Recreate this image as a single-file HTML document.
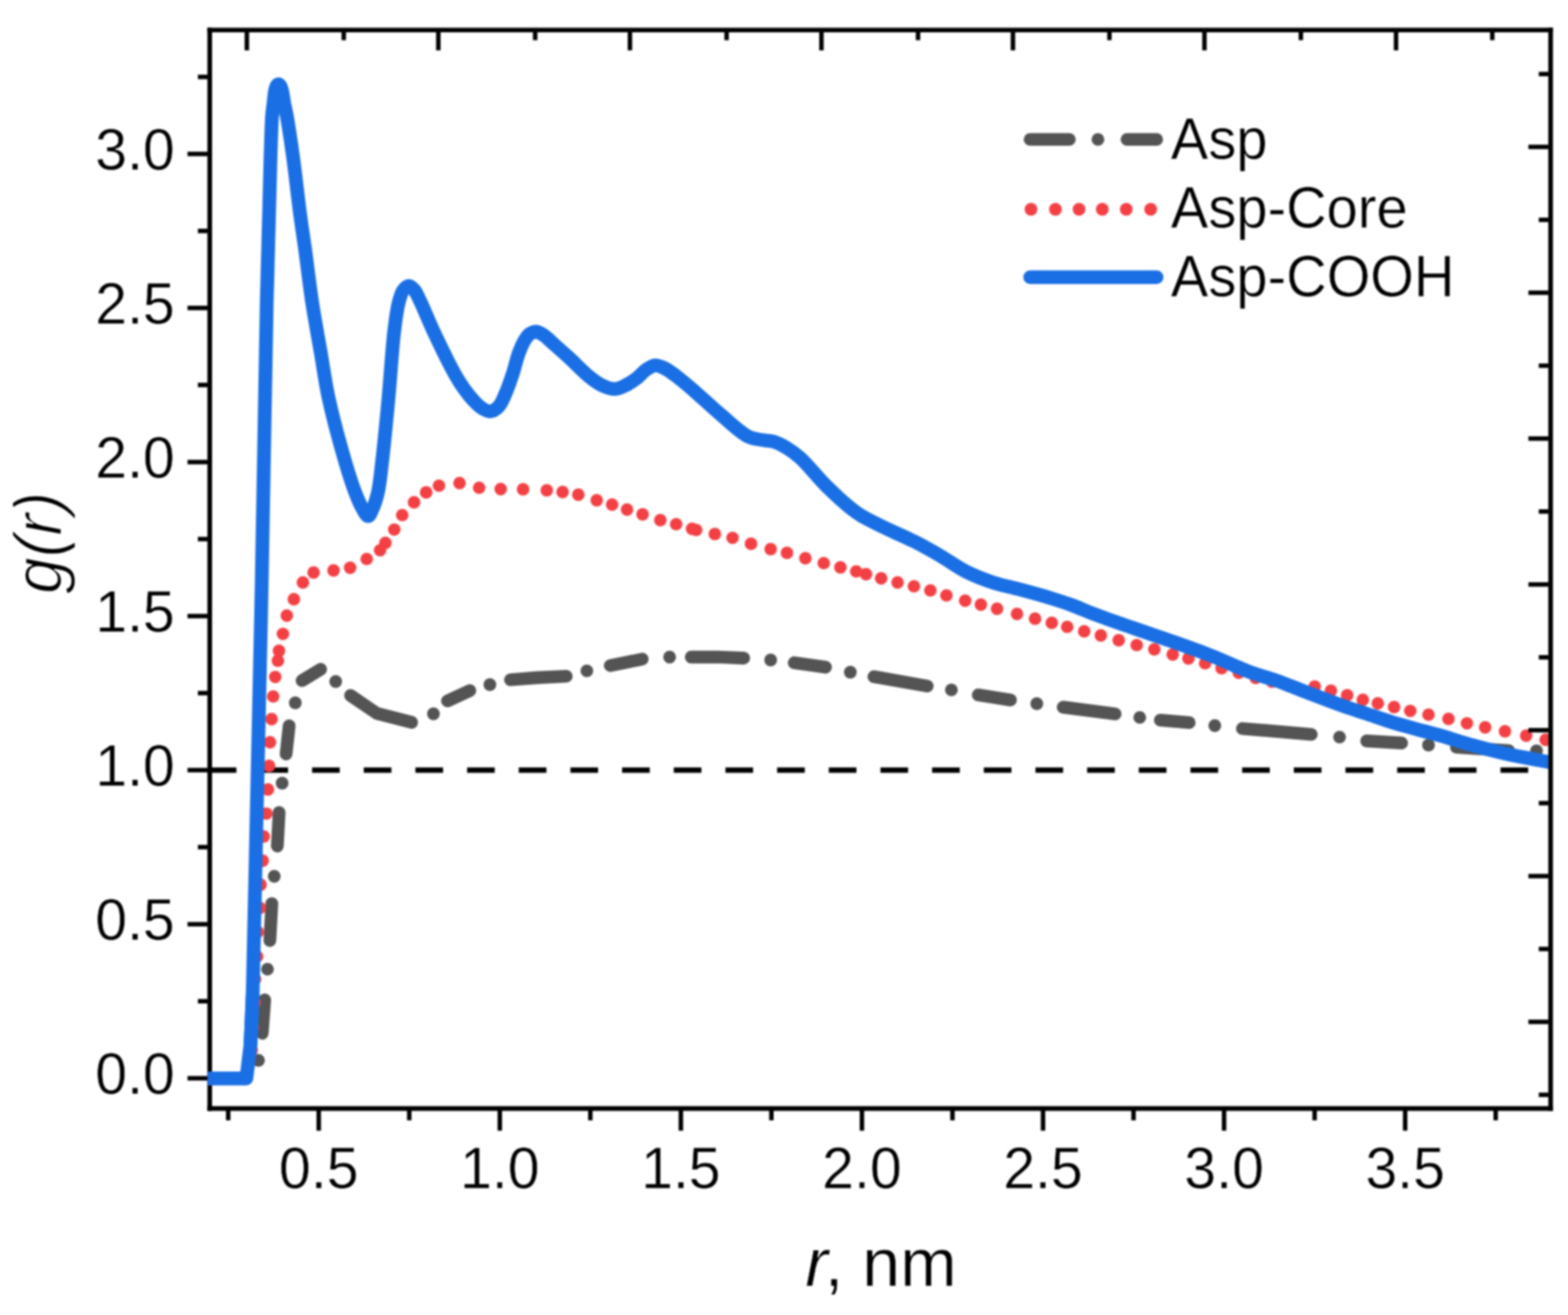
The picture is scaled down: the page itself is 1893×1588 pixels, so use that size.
<!DOCTYPE html>
<html lang="en"><head><meta charset="utf-8"><title>g(r) radial distribution</title>
<style>
html,body{margin:0;padding:0;background:#fff;}
body{width:1893px;height:1588px;overflow:hidden;}
svg{display:block;filter:blur(0.8px);}
text{font-family:"Liberation Sans",sans-serif;fill:#000;}
text{stroke:#fff;stroke-width:0.5px;paint-order:fill stroke;stroke-linejoin:round;}
.tk{font-size:70px;}
.lg{font-size:71px;}
.ax{font-size:82px;stroke-width:0.6px;}
</style></head><body>
<svg width="1893" height="1588" viewBox="0 0 1893 1588">
<rect x="0" y="0" width="1893" height="1588" fill="#fff"/>
<defs><clipPath id="plot"><rect x="250.4" y="33.4" width="1618.8" height="1302.4"/></clipPath></defs>
<g stroke="#000" stroke-width="5.6" fill="none">
<path d="M253.2 33.4 V1341.4"/>
<path d="M250.4 1338.6 H1874.8"/>
</g>
<g stroke="#000" stroke-width="5.4" fill="none">
<path d="M275.5 1340.9 v12.0"/>
<path d="M384.8 1340.9 v24.5"/>
<path d="M494.1 1340.9 v12.0"/>
<path d="M603.4 1340.9 v24.5"/>
<path d="M712.7 1340.9 v12.0"/>
<path d="M822.0 1340.9 v24.5"/>
<path d="M931.3 1340.9 v12.0"/>
<path d="M1040.6 1340.9 v24.5"/>
<path d="M1149.9 1340.9 v12.0"/>
<path d="M1259.2 1340.9 v24.5"/>
<path d="M1368.5 1340.9 v12.0"/>
<path d="M1477.8 1340.9 v24.5"/>
<path d="M1587.1 1340.9 v12.0"/>
<path d="M1696.4 1340.9 v24.5"/>
<path d="M1805.7 1340.9 v12.0"/>
<path d="M250.9 1302.1 h-24.5"/>
<path d="M250.9 1209.1 h-12.0"/>
<path d="M250.9 1116.1 h-24.5"/>
<path d="M250.9 1023.0 h-12.0"/>
<path d="M250.9 930.0 h-24.5"/>
<path d="M250.9 837.0 h-12.0"/>
<path d="M250.9 744.0 h-24.5"/>
<path d="M250.9 651.0 h-12.0"/>
<path d="M250.9 558.0 h-24.5"/>
<path d="M250.9 464.9 h-12.0"/>
<path d="M250.9 371.9 h-24.5"/>
<path d="M250.9 278.9 h-12.0"/>
<path d="M250.9 185.9 h-24.5"/>
<path d="M250.9 92.9 h-12.0"/>
</g>
<g clip-path="url(#plot)">
<path d="M252.0 930.0 H1872.0" stroke="#000" stroke-width="6.4" stroke-dasharray="33.4 28.98" fill="none"/>
<g stroke="#545454" stroke-width="15.4" stroke-linecap="round" stroke-linejoin="round" fill="none">
<path d="M312.1 1280.5 h0.01"/>
<path d="M316.6 1247.8 L319.6 1207.5"/>
<path d="M322.9 1170.4 h0.01"/>
<path d="M325.8 1135.8 L328.2 1091.1"/>
<path d="M331.1 1058.3 h0.01"/>
<path d="M334.8 1021.7 L337.0 981.1"/>
<path d="M340.6 945.8 h0.01"/>
<path d="M345.4 910.5 L349.1 876.4"/>
<path d="M356.5 848.8 h0.01"/>
<path d="M364.7 821.9 L387.1 808.2"/>
<path d="M405.3 823.0 h0.01"/>
<path d="M423.2 839.9 L455.0 861.5 L497.0 872.3"/>
<path d="M523.3 862.0 h0.01"/>
<path d="M540.2 846.4 L567.2 834.0"/>
<path d="M591.4 826.8 h0.01"/>
<path d="M616.3 820.9 L650.0 818.3 L683.7 816.6"/>
<path d="M708.5 810.1 h0.01"/>
<path d="M736.8 803.7 L775.3 796.0"/>
<path d="M808.4 793.5 h0.01"/>
<path d="M834.5 793.5 L866.0 793.4 L897.9 794.7"/>
<path d="M930.4 797.0 h0.01"/>
<path d="M958.8 800.3 L996.6 805.7"/>
<path d="M1026.6 811.7 h0.01"/>
<path d="M1055.0 817.2 L1119.4 828.5"/>
<path d="M1148.6 833.1 h0.01"/>
<path d="M1181.0 839.2 L1220.0 845.3"/>
<path d="M1251.7 849.8 h0.01"/>
<path d="M1283.5 854.0 L1346.3 862.1"/>
<path d="M1376.0 866.4 h0.01"/>
<path d="M1400.8 869.6 L1435.7 872.7"/>
<path d="M1466.6 876.2 h0.01"/>
<path d="M1499.9 879.8 L1583.1 886.9"/>
<path d="M1617.2 890.1 h0.01"/>
<path d="M1649.9 894.8 L1692.1 897.3"/>
<path d="M1724.6 899.8 h0.01"/>
<path d="M1758.3 902.4 L1821.3 906.4"/>
<path d="M1855.0 906.8 h0.01"/>
</g>
<g fill="#f34044">
<circle cx="304.0" cy="1268.0" r="7.6"/>
<circle cx="305.4" cy="1240.0" r="7.6"/>
<circle cx="307.6" cy="1210.8" r="7.6"/>
<circle cx="308.0" cy="1182.4" r="7.6"/>
<circle cx="310.4" cy="1155.0" r="7.6"/>
<circle cx="311.3" cy="1125.5" r="7.6"/>
<circle cx="313.8" cy="1096.3" r="7.6"/>
<circle cx="314.6" cy="1068.4" r="7.6"/>
<circle cx="317.2" cy="1039.3" r="7.6"/>
<circle cx="318.4" cy="1010.1" r="7.6"/>
<circle cx="321.6" cy="982.5" r="7.6"/>
<circle cx="323.5" cy="953.4" r="7.6"/>
<circle cx="324.8" cy="924.8" r="7.6"/>
<circle cx="326.0" cy="896.3" r="7.6"/>
<circle cx="327.9" cy="868.4" r="7.6"/>
<circle cx="329.8" cy="841.0" r="7.6"/>
<circle cx="332.3" cy="817.5" r="7.6"/>
<circle cx="335.5" cy="797.8" r="7.6"/>
<circle cx="336.8" cy="785.8" r="7.6"/>
<circle cx="341.6" cy="765.5" r="7.6"/>
<circle cx="346.3" cy="743.3" r="7.6"/>
<circle cx="354.8" cy="723.7" r="7.6"/>
<circle cx="365.7" cy="703.4" r="7.6"/>
<circle cx="378.6" cy="691.3" r="7.6"/>
<circle cx="402.7" cy="688.8" r="7.6"/>
<circle cx="422.7" cy="685.6" r="7.6"/>
<circle cx="442.7" cy="675.0" r="7.6"/>
<circle cx="458.9" cy="664.5" r="7.6"/>
<circle cx="465.3" cy="655.7" r="7.6"/>
<circle cx="476.0" cy="639.5" r="7.6"/>
<circle cx="485.6" cy="622.0" r="7.6"/>
<circle cx="499.9" cy="606.7" r="7.6"/>
<circle cx="514.5" cy="594.7" r="7.6"/>
<circle cx="530.0" cy="586.5" r="7.6"/>
<circle cx="554.8" cy="583.3" r="7.6"/>
<circle cx="578.5" cy="589.0" r="7.6"/>
<circle cx="604.5" cy="590.6" r="7.6"/>
<circle cx="631.5" cy="590.8" r="7.6"/>
<circle cx="660.1" cy="592.1" r="7.6"/>
<circle cx="679.2" cy="594.2" r="7.6"/>
<circle cx="698.2" cy="597.4" r="7.6"/>
<circle cx="720.4" cy="604.1" r="7.6"/>
<circle cx="739.0" cy="609.4" r="7.6"/>
<circle cx="757.0" cy="615.3" r="7.6"/>
<circle cx="775.8" cy="621.1" r="7.6"/>
<circle cx="797.2" cy="628.2" r="7.6"/>
<circle cx="816.3" cy="633.0" r="7.6"/>
<circle cx="835.5" cy="638.6" r="7.6"/>
<circle cx="840.5" cy="640.0" r="7.6"/>
<circle cx="863.0" cy="644.9" r="7.6"/>
<circle cx="884.4" cy="649.5" r="7.6"/>
<circle cx="906.7" cy="656.7" r="7.6"/>
<circle cx="930.4" cy="663.1" r="7.6"/>
<circle cx="950.1" cy="667.7" r="7.6"/>
<circle cx="972.3" cy="674.1" r="7.6"/>
<circle cx="994.5" cy="680.0" r="7.6"/>
<circle cx="1014.6" cy="685.1" r="7.6"/>
<circle cx="1033.7" cy="690.0" r="7.6"/>
<circle cx="1045.5" cy="693.3" r="7.6"/>
<circle cx="1063.8" cy="698.3" r="7.6"/>
<circle cx="1083.6" cy="703.4" r="7.6"/>
<circle cx="1103.4" cy="708.0" r="7.6"/>
<circle cx="1123.2" cy="713.0" r="7.6"/>
<circle cx="1142.6" cy="719.0" r="7.6"/>
<circle cx="1165.2" cy="725.4" r="7.6"/>
<circle cx="1184.2" cy="730.1" r="7.6"/>
<circle cx="1203.7" cy="735.1" r="7.6"/>
<circle cx="1227.8" cy="741.4" r="7.6"/>
<circle cx="1249.6" cy="747.2" r="7.6"/>
<circle cx="1269.8" cy="752.2" r="7.6"/>
<circle cx="1288.4" cy="757.0" r="7.6"/>
<circle cx="1308.9" cy="762.4" r="7.6"/>
<circle cx="1329.0" cy="767.4" r="7.6"/>
<circle cx="1350.6" cy="773.1" r="7.6"/>
<circle cx="1372.3" cy="779.0" r="7.6"/>
<circle cx="1393.6" cy="784.1" r="7.6"/>
<circle cx="1415.8" cy="790.3" r="7.6"/>
<circle cx="1434.8" cy="795.2" r="7.6"/>
<circle cx="1454.9" cy="801.0" r="7.6"/>
<circle cx="1474.8" cy="806.8" r="7.6"/>
<circle cx="1495.5" cy="812.5" r="7.6"/>
<circle cx="1516.0" cy="818.7" r="7.6"/>
<circle cx="1535.7" cy="823.2" r="7.6"/>
<circle cx="1554.9" cy="828.0" r="7.6"/>
<circle cx="1587.2" cy="829.2" r="7.6"/>
<circle cx="1606.8" cy="834.0" r="7.6"/>
<circle cx="1626.4" cy="839.7" r="7.6"/>
<circle cx="1645.3" cy="845.2" r="7.6"/>
<circle cx="1663.4" cy="849.4" r="7.6"/>
<circle cx="1683.0" cy="853.8" r="7.6"/>
<circle cx="1702.6" cy="858.5" r="7.6"/>
<circle cx="1724.6" cy="863.0" r="7.6"/>
<circle cx="1748.7" cy="868.2" r="7.6"/>
<circle cx="1771.0" cy="873.5" r="7.6"/>
<circle cx="1793.0" cy="878.3" r="7.6"/>
<circle cx="1816.9" cy="883.1" r="7.6"/>
<circle cx="1842.5" cy="888.3" r="7.6"/>
<circle cx="1866.0" cy="893.4" r="7.6"/>
</g>
<path d="M250.0 1302.4 L297.4 1302.4 L302.4 1262.0 L305.1 1200.0" stroke="#1b6fe4" stroke-width="16.6" stroke-linejoin="round" stroke-linecap="butt" fill="none"/>
<path d="M302.40 1262.00 C303.30 1241.33 304.23 1226.56 305.10 1200.00 C306.66 1152.32 307.89 1073.29 309.50 1000.00 C311.46 910.54 313.97 804.31 316.00 702.00 C318.15 593.36 320.22 446.56 322.00 366.00 C323.00 320.75 323.96 292.08 324.80 260.00 C325.50 233.32 326.00 208.42 326.70 186.70 C327.26 169.33 327.61 151.41 328.50 139.80 C329.03 132.92 329.80 128.52 330.40 123.40 C330.93 118.90 331.17 114.31 331.90 110.70 C332.46 107.93 333.03 104.99 334.00 103.50 C334.57 102.62 335.30 101.82 336.00 101.80 C336.73 101.78 337.63 102.59 338.30 103.50 C339.39 104.99 340.09 107.93 340.80 110.70 C341.72 114.30 342.08 118.90 342.90 123.40 C343.84 128.53 344.98 132.91 346.20 139.80 C348.26 151.40 350.99 169.31 353.40 186.70 C356.41 208.40 359.73 239.25 362.50 260.00 C364.55 275.35 366.13 285.00 368.20 300.00 C370.86 319.25 373.72 344.49 377.00 366.00 C380.15 386.69 384.03 407.13 387.40 426.70 C390.55 445.04 392.45 460.75 396.60 480.00 C401.60 503.19 410.21 535.09 416.30 556.00 C420.64 570.92 424.55 583.44 428.60 594.00 C431.60 601.82 434.40 608.73 437.50 614.00 C439.76 617.84 442.34 623.43 444.50 623.30 C446.68 623.17 448.71 617.07 450.50 613.00 C452.81 607.74 454.74 601.50 456.40 594.00 C458.70 583.59 459.76 570.86 461.50 556.00 C463.95 535.03 466.73 505.56 469.10 480.00 C471.51 454.03 473.34 422.23 475.80 401.40 C477.43 387.57 478.74 376.22 481.00 367.00 C482.58 360.57 483.86 354.75 486.50 351.00 C488.43 348.25 491.28 345.35 493.60 345.30 C495.77 345.25 498.05 347.75 500.00 350.00 C502.67 353.07 504.28 357.45 507.00 363.00 C511.58 372.35 517.60 387.79 524.00 401.40 C531.44 417.21 542.40 439.83 549.30 452.10 C553.41 459.41 556.16 463.73 560.00 469.10 C563.74 474.35 568.01 479.79 572.00 484.00 C575.34 487.53 578.45 490.83 582.00 493.00 C585.16 494.93 588.73 497.07 592.00 496.80 C595.40 496.52 599.18 493.92 602.00 491.00 C605.42 487.46 607.44 481.72 610.00 476.00 C613.17 468.90 616.26 459.71 619.00 451.40 C621.76 443.04 623.69 433.40 626.50 426.00 C628.79 419.96 631.34 414.11 634.00 410.00 C635.92 407.03 637.63 404.57 640.00 403.00 C642.19 401.55 644.95 400.45 647.50 400.60 C650.28 400.77 653.07 402.60 656.00 404.50 C659.83 406.98 663.57 411.08 668.00 415.00 C673.56 419.91 680.03 425.60 686.70 431.70 C694.56 438.89 704.54 449.48 712.10 455.50 C717.53 459.82 721.78 463.10 727.00 465.50 C731.94 467.77 737.54 469.98 742.50 469.80 C747.18 469.63 751.66 467.14 756.00 465.00 C760.54 462.76 765.05 459.63 769.10 456.50 C773.04 453.45 776.17 449.11 780.00 446.50 C783.47 444.14 787.11 441.48 790.90 441.20 C794.77 440.91 798.80 442.92 803.00 445.00 C808.39 447.66 814.26 452.56 820.00 457.00 C826.31 461.87 832.05 467.00 839.20 473.20 C848.50 481.25 860.22 492.38 870.90 501.40 C881.35 510.23 893.49 522.16 902.60 526.80 C908.31 529.71 912.76 529.90 918.00 531.00 C923.32 532.11 929.04 531.78 934.30 533.40 C939.71 535.07 944.89 537.90 950.00 541.00 C955.47 544.32 960.04 547.56 966.00 552.90 C975.11 561.06 986.89 576.37 997.70 587.00 C1008.04 597.17 1021.50 609.27 1029.40 615.50 C1033.74 618.92 1035.41 620.06 1040.00 622.80 C1047.64 627.36 1061.08 633.83 1071.70 639.00 C1082.22 644.12 1092.92 648.40 1103.40 653.70 C1114.06 659.09 1124.60 665.01 1135.10 671.10 C1145.74 677.27 1156.00 685.06 1166.80 690.50 C1177.16 695.71 1187.82 699.78 1198.50 703.30 C1208.96 706.75 1219.65 708.67 1230.20 711.50 C1240.78 714.34 1251.37 717.13 1261.90 720.30 C1272.50 723.49 1283.57 726.96 1293.60 730.60 C1302.86 733.96 1309.87 737.36 1320.00 741.20 C1333.48 746.32 1351.64 752.65 1367.50 758.20 C1383.34 763.75 1399.27 768.89 1415.10 774.50 C1430.97 780.12 1446.83 785.69 1462.60 791.90 C1478.53 798.18 1496.08 806.78 1510.20 812.00 C1521.19 816.06 1529.40 817.76 1540.00 821.50 C1552.42 825.88 1566.65 831.91 1580.00 837.00 C1593.32 842.08 1607.59 847.61 1620.00 852.00 C1630.68 855.78 1640.00 858.67 1650.00 862.00 C1660.00 865.33 1669.96 868.91 1680.00 872.00 C1689.97 875.07 1699.99 877.75 1710.00 880.50 C1719.99 883.25 1729.97 885.61 1740.00 888.50 C1750.20 891.44 1759.34 894.77 1770.70 898.00 C1784.66 901.97 1801.62 906.55 1817.70 910.20 C1834.42 913.99 1856.96 917.81 1869.20 920.20 C1875.98 921.52 1879.73 922.27 1885.00 923.30" stroke="#1b6fe4" stroke-width="16.6" stroke-linejoin="round" stroke-linecap="butt" fill="none"/>
</g>
<g stroke="#000" stroke-width="5.6" fill="none">
<path d="M250.4 36.2 H1874.8"/>
<path d="M1872.0 33.4 V1341.4"/>
</g>
<g stroke="#000" stroke-width="5.4" fill="none">
<path d="M298.0 38.5 v22.3"/>
<path d="M415.0 38.5 v10.0"/>
<path d="M529.2 38.5 v22.3"/>
<path d="M646.1 38.5 v10.0"/>
<path d="M760.5 38.5 v22.3"/>
<path d="M877.2 38.5 v10.0"/>
<path d="M991.7 38.5 v22.3"/>
<path d="M1108.3 38.5 v10.0"/>
<path d="M1222.9 38.5 v22.3"/>
<path d="M1339.4 38.5 v10.0"/>
<path d="M1454.1 38.5 v22.3"/>
<path d="M1570.5 38.5 v10.0"/>
<path d="M1685.4 38.5 v22.3"/>
<path d="M1801.6 38.5 v10.0"/>
<path d="M1869.7 89.4 h-12.0"/>
<path d="M1869.7 177.4 h-24.5"/>
<path d="M1869.7 265.5 h-12.0"/>
<path d="M1869.7 353.5 h-24.5"/>
<path d="M1869.7 441.6 h-12.0"/>
<path d="M1869.7 529.6 h-24.5"/>
<path d="M1869.7 617.7 h-12.0"/>
<path d="M1869.7 705.8 h-24.5"/>
<path d="M1869.7 793.8 h-12.0"/>
<path d="M1869.7 881.8 h-24.5"/>
<path d="M1869.7 969.9 h-12.0"/>
<path d="M1869.7 1058.0 h-24.5"/>
<path d="M1869.7 1146.0 h-12.0"/>
<path d="M1869.7 1234.0 h-24.5"/>
<path d="M1869.7 1322.1 h-12.0"/>
</g>
<text class="tk" x="384.8" y="1435.2" text-anchor="middle" textLength="96" lengthAdjust="spacingAndGlyphs">0.5</text>
<text class="tk" x="603.4" y="1435.2" text-anchor="middle" textLength="96" lengthAdjust="spacingAndGlyphs">1.0</text>
<text class="tk" x="822.0" y="1435.2" text-anchor="middle" textLength="96" lengthAdjust="spacingAndGlyphs">1.5</text>
<text class="tk" x="1040.6" y="1435.2" text-anchor="middle" textLength="96" lengthAdjust="spacingAndGlyphs">2.0</text>
<text class="tk" x="1259.2" y="1435.2" text-anchor="middle" textLength="96" lengthAdjust="spacingAndGlyphs">2.5</text>
<text class="tk" x="1477.8" y="1435.2" text-anchor="middle" textLength="96" lengthAdjust="spacingAndGlyphs">3.0</text>
<text class="tk" x="1696.4" y="1435.2" text-anchor="middle" textLength="96" lengthAdjust="spacingAndGlyphs">3.5</text>
<text class="tk" x="211" y="1321.3" text-anchor="end" textLength="96" lengthAdjust="spacingAndGlyphs">0.0</text>
<text class="tk" x="211" y="1135.3" text-anchor="end" textLength="96" lengthAdjust="spacingAndGlyphs">0.5</text>
<text class="tk" x="211" y="949.2" text-anchor="end" textLength="96" lengthAdjust="spacingAndGlyphs">1.0</text>
<text class="tk" x="211" y="763.2" text-anchor="end" textLength="96" lengthAdjust="spacingAndGlyphs">1.5</text>
<text class="tk" x="211" y="577.2" text-anchor="end" textLength="96" lengthAdjust="spacingAndGlyphs">2.0</text>
<text class="tk" x="211" y="391.1" text-anchor="end" textLength="96" lengthAdjust="spacingAndGlyphs">2.5</text>
<text class="tk" x="211" y="205.1" text-anchor="end" textLength="96" lengthAdjust="spacingAndGlyphs">3.0</text>
<text class="ax" x="1059.6" y="1552.5" text-anchor="middle"><tspan font-style="italic" dx="4">r</tspan><tspan dx="-4">, nm</tspan></text>
<text class="ax" transform="translate(74,655.5) rotate(-90)" text-anchor="middle" font-style="italic" style="stroke-width:1.5px" textLength="123.6" lengthAdjust="spacingAndGlyphs">g(r)</text>
<g stroke-width="15.4" stroke-linecap="round" fill="none">
<path d="M1243.6 168.4 H1291" stroke="#545454"/>
<path d="M1325.5 168.4 h0.01" stroke="#545454"/>
<path d="M1360.6 168.4 H1396.4" stroke="#545454"/>
<path d="M1244.7 252.7 h0.01" stroke="#f34044"/>
<path d="M1274.2 252.7 h0.01" stroke="#f34044"/>
<path d="M1302.7 252.7 h0.01" stroke="#f34044"/>
<path d="M1330.8 252.7 h0.01" stroke="#f34044"/>
<path d="M1359.7 252.7 h0.01" stroke="#f34044"/>
<path d="M1389.2 252.7 h0.01" stroke="#f34044"/>
<path d="M1243.6 334.8 H1396.4" stroke="#1b6fe4" stroke-width="16.4"/>
</g>
<text class="lg" x="1413.5" y="192.3" textLength="116.6" lengthAdjust="spacingAndGlyphs">Asp</text>
<text class="lg" x="1413.5" y="275.3" textLength="286" lengthAdjust="spacingAndGlyphs">Asp-Core</text>
<text class="lg" x="1413.5" y="358" textLength="342.4" lengthAdjust="spacingAndGlyphs">Asp-COOH</text>
</svg>
</body></html>
